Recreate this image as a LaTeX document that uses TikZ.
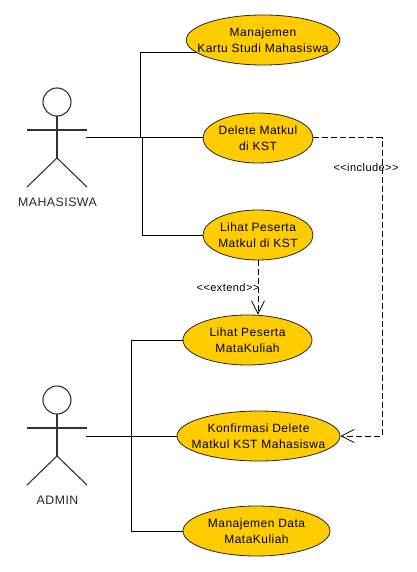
\documentclass[tikz,border=0pt]{standalone}
\usepackage{fontspec}
\setmainfont{Liberation Sans}[LetterSpace=4]
\usetikzlibrary{shapes.geometric,arrows.meta}
\definecolor{ucfill}{HTML}{FFCC00}
\tikzset{
    usecase/.style={ellipse, draw=black!85, fill=ucfill, line width=0.8pt, inner xsep=-50pt, inner ysep=-12pt, minimum height=50pt, align=center, font=\fontsize{12}{16}\selectfont},
    assoc/.style={line width=1pt},
    dep/.style={line width=1pt, dash pattern=on 6pt off 3pt, -{Straight Barb[length=13pt,width=13pt,line width=0.8pt]}},
    stereo/.style={font=\fontsize{11}{13}\selectfont},
    actorname/.style={font=\fontsize{12.3}{14}\selectfont, text=black!85},
    actor/.pic={
        \draw[line width=1.1pt, black!80] (0,-28) circle (14);
        \draw[line width=1.1pt, black!80] (0,-14) -- (0,28);
        \draw[line width=1.1pt, black!80] (-30,0) -- (30,0);
        \draw[line width=1.1pt, black!80] (-30,57) -- (0,28) -- (30,57);
    }
}
\begin{document}
\begin{tikzpicture}[x=1pt, y=-1pt]
    \useasboundingbox (0,0) rectangle (416,572);

    % actors
    \pic at (57,130) {actor};
    \pic at (57,428) {actor};
    \node[actorname] (mhs) at (57.5,202) {MAHASISWA};
    \node[actorname] (adm) at (57.5,500) {ADMIN};

    % use cases
    \node[usecase, minimum width=153.5pt] (uc1) at (263,40) {Manajemen\\Kartu Studi Mahasiswa};
    \node[usecase, minimum width=110pt] (uc2) at (258,138) {Delete Matkul\\di KST};
    \node[usecase, minimum width=110pt] (uc3) at (258,235) {Lihat Peserta\\Matkul di KST};
    \node[usecase, minimum width=129pt] (uc4) at (247.5,340) {Lihat Peserta\\MataKuliah};
    \node[usecase, minimum width=163pt] (uc5) at (258.5,436) {Konfirmasi Delete\\Matkul KST Mahasiswa};
    \node[usecase, minimum width=147pt] (uc6) at (256.5,531) {Manajemen Data\\MataKuliah};

    \coordinate (mhsarm) at (86,138);
    \coordinate (admarm) at (86,436);
    \coordinate (jointa) at (140.5,138);
    \coordinate (jointb) at (142.5,138);
    \coordinate (jointc) at (131.5,436);
    \coordinate (bend) at (382,436);

    % associations
    \draw[assoc] (mhsarm) -- (uc2.west);
    \draw[assoc] (jointa) |- (uc1.191);
    \draw[assoc] (jointb) |- (uc3.west);
    \draw[assoc] (admarm) -- (uc5.west);
    \draw[assoc] (jointc) |- (uc4.west);
    \draw[assoc] (jointc) |- (uc6.west);

    % dependencies
    \draw[dep] (uc3.south) -- (uc3.south |- uc4.north);
    \draw[dep] (uc2.east) -| (bend) -- (uc5.east);
    \node[stereo] (ext) at (228,288) {<{}<extend>{}>};
    \node[stereo] (inc) at (366,168) {<{}<include>{}>};
\end{tikzpicture}
\end{document}
